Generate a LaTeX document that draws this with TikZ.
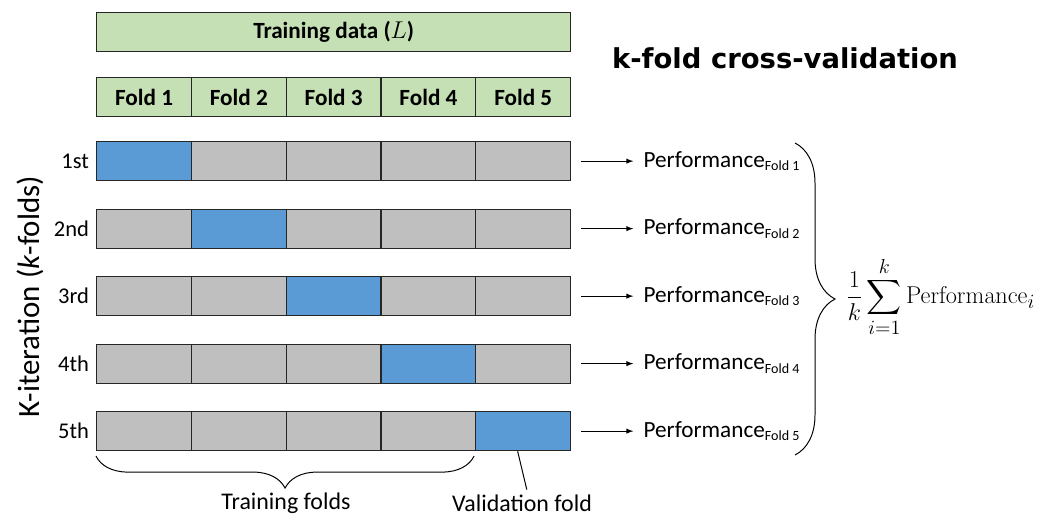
\documentclass[tikz,border=0pt]{standalone}
\usepackage{amsmath}
\usepackage[no-math]{fontspec}
\setmainfont{Carlito}
\newfontfamily\titlefont{DejaVu Sans}
\usetikzlibrary{decorations.pathreplacing}

\definecolor{foldgreen}{HTML}{C5E0B4}
\definecolor{foldblue}{HTML}{5B9BD5}
\definecolor{foldgray}{HTML}{BFBFBF}
\definecolor{edgegray}{HTML}{262626}

\newcommand{\foldsub}[1]{\raisebox{-0.35ex}{\fontsize{10}{12}\selectfont #1}}

\tikzset{
  cell/.style={draw=edgegray, line width=0.9pt, fill=foldgray, minimum width=2.37cm,
    minimum height=0.975cm, inner sep=0pt, anchor=north west},
  valcell/.style={cell, fill=foldblue},
  headcell/.style={cell, fill=foldgreen, font=\fontsize{16.5}{18}\selectfont\bfseries},
  rowlab/.style={anchor=east, inner sep=0pt, font=\fontsize{16}{18}\selectfont},
  perf/.style={anchor=west, inner sep=0pt, font=\fontsize{16.5}{18}\selectfont},
  caption/.style={font=\fontsize{17}{19}\selectfont},
}

\begin{document}
\begin{tikzpicture}[x=0.025cm,y=-0.025cm]
    \useasboundingbox (0,0) rectangle (1048,519);
    % training data and its folds
    \node[headcell, minimum width=11.85cm] (data) at (96,12) {Training data ($L$)};
    \foreach \j in {1,...,5}
        \node[headcell] (f-\j) at ({96+94.8*(\j-1)},77) {Fold \j};
    \node[font=\titlefont\fontsize{19.5}{22}\selectfont\bfseries] (title) at (785,58) {k-fold cross-validation};
    % one row per iteration
    \foreach \i/\lab in {1/1st,2/2nd,3/3rd,4/4th,5/5th} {
        \pgfmathsetmacro{\y}{141+67.5*(\i-1)}
        \foreach \j in {1,...,5} {
            \ifnum\i=\j \def\kind{valcell}\else\def\kind{cell}\fi
            \node[\kind] (c-\i-\j) at ({96+94.8*(\j-1)},\y) {};
        }
        \node[rowlab] (r-\i) at ([xshift=-0.17cm]c-\i-1.west) {\lab};
        \node[perf] (p-\i) at ([xshift=1.8cm]c-\i-5.east) {Performance\foldsub{Fold \i}};
        \draw[-latex, line width=0.7pt, shorten <=0.25cm, shorten >=0.25cm] (c-\i-5.east) -- (c-\i-5.east -| p-\i.west);
    }
    \node[rotate=90, font=\fontsize{22}{26}\selectfont] (iter) at (30,297) {K-iteration (\textit{k}-folds)};
    % average over the folds
    \draw[line width=0.7pt, decorate, decoration={brace, amplitude=1cm}] (795,143) -- (795,455);
    \node[anchor=west, inner sep=0pt, font=\fontsize{19}{22}\selectfont] (avg) at (846,297)
        {$\displaystyle\frac{1}{k}\sum_{i=1}^{k}\mathrm{Performance}_i$};
    % training / validation labels
    \draw[line width=0.7pt, decorate, decoration={brace, mirror, amplitude=0.8cm}]
        ([yshift=-1.2mm]c-5-1.south west) -- ([xshift=-0.6mm, yshift=-1.2mm]c-5-4.south east);
    \node[caption] (trlab) at (286,503) {Training folds};
    \node[caption] (valab) at (522,503) {Validation fold};
    \draw[line width=0.7pt] ([xshift=-1.4mm]c-5-5.south) -- ([xshift=1.2mm]valab.north);
\end{tikzpicture}
\end{document}
